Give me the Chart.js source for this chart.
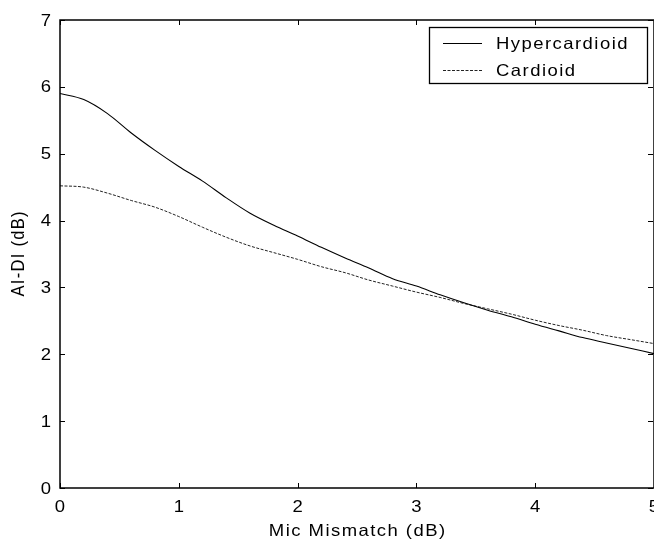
<!DOCTYPE html>
<html>
<head>
<meta charset="utf-8">
<script src="https://cdn.jsdelivr.net/npm/chart.js@4.4.1/dist/chart.umd.min.js"></script>
<style>
  html, body { margin: 0; padding: 0; background: #fff; }
  #wrap { width: 654px; height: 541px; overflow: hidden; position: relative; }
  canvas { display: block; }
</style>
</head>
<body>
<div id="wrap"><canvas id="c" width="680" height="541"></canvas></div>
<script>
// Microphone mismatch (dB) sampled along the x axis
const mismatch = [0, 0.2, 0.4, 0.6, 0.8, 1.0, 1.2, 1.4, 1.6, 1.8, 2.0, 2.2, 2.4,
                  2.6, 2.8, 3.0, 3.2, 3.4, 3.6, 3.8, 4.0, 4.2, 4.4, 4.6, 4.8, 5.0];
// AI-DI (dB) for each pattern
const hypercardioid = [5.90, 5.81, 5.60, 5.31, 5.05, 4.81, 4.59, 4.34, 4.11, 3.93, 3.77, 3.60, 3.44,
                       3.29, 3.13, 3.02, 2.89, 2.77, 2.66, 2.56, 2.45, 2.35, 2.25, 2.17, 2.09, 2.01];
const cardioid = [4.52, 4.50, 4.41, 4.30, 4.20, 4.06, 3.90, 3.75, 3.62, 3.52, 3.42, 3.31, 3.22,
                  3.11, 3.02, 2.93, 2.85, 2.76, 2.68, 2.60, 2.51, 2.43, 2.36, 2.28, 2.22, 2.16];
const seriesNames = ['Hypercardioid', 'Cardioid'];
const xTicks = [0, 1, 2, 3, 4, 5];
const yTicks = [0, 1, 2, 3, 4, 5, 6, 7];
const xTitle = 'Mic Mismatch (dB)';
const yTitle = 'AI-DI (dB)';

const FONT = '16.5px "Liberation Sans", Arial, Helvetica, sans-serif';
const SX = 1.12;      // horizontal stretch of horizontal text
const LS = '1.3px';   // extra letter spacing
const SX_ROT = 1.1;   // stretch across the rotated axis title

const toPoints = ys => mismatch.map((x, i) => ({ x, y: ys[i] }));

function drawText(ctx, text, x, y, align, sx, rotate) {
  ctx.save();
  ctx.translate(x, y);
  ctx.scale(sx, 1);
  if (rotate) ctx.rotate(-Math.PI / 2);
  ctx.font = FONT;
  ctx.letterSpacing = LS;
  ctx.fillStyle = '#000';
  ctx.textBaseline = 'alphabetic';
  // letter spacing trails the last glyph; place the text by its measured width
  const w = ctx.measureText(text).width - parseFloat(LS);
  const x0 = align === 'center' ? -w / 2 : align === 'right' ? -w : 0;
  ctx.textAlign = 'left';
  ctx.fillText(text, x0, 0);
  ctx.restore();
}

// frame box with inward tick marks on all four sides
const framePlugin = {
  id: 'frame',
  afterDatasetsDraw(chart) {
    const { ctx, chartArea: a, scales: { x, y } } = chart;
    ctx.save();
    ctx.strokeStyle = '#000';
    ctx.lineWidth = 1.5;
    ctx.strokeRect(a.left, a.top, a.right - a.left, a.bottom - a.top);
    ctx.lineWidth = 1;
    const len = 5;
    ctx.beginPath();
    xTicks.forEach(v => {
      const px = Math.round(x.getPixelForValue(v)) + 0.5;
      ctx.moveTo(px, a.bottom); ctx.lineTo(px, a.bottom - len);
      ctx.moveTo(px, a.top); ctx.lineTo(px, a.top + len);
    });
    yTicks.forEach(v => {
      const py = Math.round(y.getPixelForValue(v)) + 0.5;
      ctx.moveTo(a.left, py); ctx.lineTo(a.left + len, py);
      ctx.moveTo(a.right - 1, py); ctx.lineTo(a.right - 1 - len, py);
    });
    ctx.stroke();
    ctx.restore();
  }
};

// tick labels and axis titles placed through the scales
const axisTextPlugin = {
  id: 'axisText',
  afterDraw(chart) {
    const { ctx, chartArea: a, scales: { x, y } } = chart;
    xTicks.forEach(v => drawText(ctx, String(v), x.getPixelForValue(v), a.bottom + 24, 'center', SX));
    yTicks.forEach(v => drawText(ctx, String(v), a.left - 9, y.getPixelForValue(v) + 5.5, 'right', SX));
    drawText(ctx, xTitle, (a.left + a.right) / 2, 536, 'center', SX);
    drawText(ctx, yTitle, 24, (a.top + a.bottom) / 2, 'center', SX_ROT, true);
  }
};

// boxed legend in the upper right of the plot
const boxLegendPlugin = {
  id: 'boxLegend',
  afterDraw(chart) {
    const { ctx } = chart;
    ctx.save();
    ctx.fillStyle = '#fff';
    ctx.fillRect(429, 27, 218, 56);
    ctx.strokeStyle = '#000';
    ctx.lineWidth = 1.3;
    ctx.strokeRect(429.5, 27.5, 218, 56);
    chart.data.datasets.forEach((ds, i) => {
      const cy = 43 + i * 27;
      ctx.beginPath();
      ctx.setLineDash(ds.borderDash || []);
      ctx.strokeStyle = ds.borderColor;
      ctx.lineWidth = ds.borderWidth;
      ctx.moveTo(443, cy + 0.5);
      ctx.lineTo(482, cy + 0.5);
      ctx.stroke();
      ctx.setLineDash([]);
      drawText(ctx, ds.label, 496, cy + 5.5, 'left', SX);
    });
    ctx.restore();
  }
};

new Chart(document.getElementById('c'), {
  type: 'line',
  data: {
    datasets: [
      {
        label: seriesNames[0],
        data: toPoints(hypercardioid),
        borderColor: '#000',
        borderWidth: 1.1,
        pointRadius: 0,
        cubicInterpolationMode: 'monotone',
        fill: false
      },
      {
        label: seriesNames[1],
        data: toPoints(cardioid),
        borderColor: '#222',
        borderWidth: 1,
        borderDash: [3, 1.5],
        pointRadius: 0,
        cubicInterpolationMode: 'monotone',
        fill: false
      }
    ]
  },
  options: {
    responsive: false,
    animation: false,
    layout: { padding: { top: 20, right: 26, left: 0, bottom: 0 } },
    plugins: {
      legend: { display: false },
      tooltip: { enabled: false }
    },
    scales: {
      x: {
        type: 'linear',
        min: 0, max: 5,
        afterFit(s) { s.height = 53; },
        afterBuildTicks(s) { s.ticks = xTicks.map(v => ({ value: v })); },
        grid: { display: false, drawTicks: false },
        border: { display: false },
        ticks: { display: false },
        title: { display: false }
      },
      y: {
        type: 'linear',
        min: 0, max: 7,
        afterFit(s) { s.width = 60; },
        afterBuildTicks(s) { s.ticks = yTicks.map(v => ({ value: v })); },
        grid: { display: false, drawTicks: false },
        border: { display: false },
        ticks: { display: false },
        title: { display: false }
      }
    }
  },
  plugins: [framePlugin, axisTextPlugin, boxLegendPlugin]
});
</script>
</body>
</html>
